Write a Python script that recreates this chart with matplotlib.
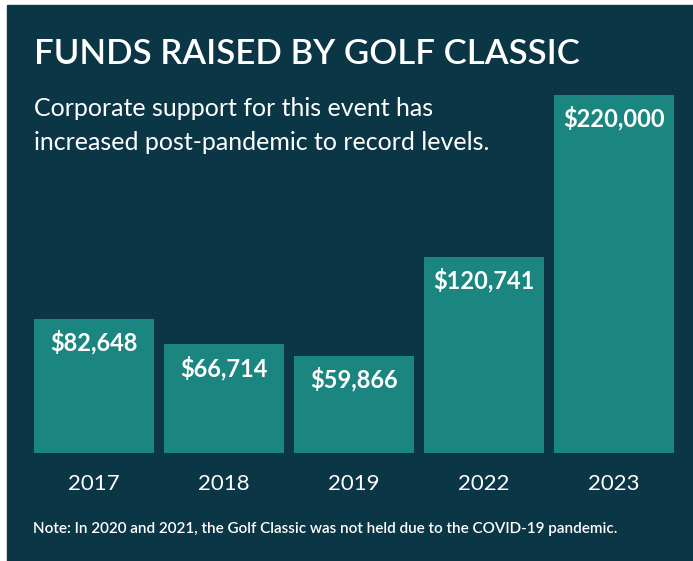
import matplotlib
matplotlib.use("Agg")
import matplotlib.pyplot as plt
from matplotlib.patches import Rectangle

years = ["2017", "2018", "2019", "2022", "2023"]
funds = [82648, 66714, 59866, 120741, 220000]
labels = ["$82,648", "$66,714", "$59,866", "$120,741", "$220,000"]

title = "FUNDS RAISED BY GOLF CLASSIC"
subtitle_lines = ["Corporate support for this event has",
                  "increased post-pandemic to record levels."]
note = "Note: In 2020 and 2021, the Golf Classic was not held due to the COVID-19 pandemic."

bg = "#0a3645"
bar_color = "#1b8580"
W, H = 693, 561

plt.rcParams["font.family"] = ["Lato", "DejaVu Sans"]

fig = plt.figure(figsize=(W / 100, H / 100), dpi=100, facecolor="white")

# dark panel behind everything
fig.patches.append(Rectangle((7 / W, 0), 1 - 7 / W, 1 - 5 / H,
                             transform=fig.transFigure, color=bg, zorder=-1))

# bar area: pixel box 29..679 wide, baseline at y=453, top (220000) at y=95
ax = fig.add_axes([29 / W, (H - 453) / H, 650 / W, (453 - 95) / H])
ax.set_zorder(1)
ax.set_facecolor("none")
x = range(len(years))
ax.bar(x, funds, width=120 / 130, color=bar_color)
ax.set_xlim(-0.5, len(years) - 0.5)
ax.set_ylim(0, 220000)
for s in ax.spines.values():
    s.set_visible(False)
ax.set_yticks([])
ax.set_xticks(list(x))
ax.set_xticklabels(years, color="white", fontsize=16)
ax.tick_params(axis="x", length=0, pad=15)

for xi, v, lab in zip(x, funds, labels):
    ax.annotate(lab, (xi, v), xytext=(0, -8), textcoords="offset points",
                ha="center", va="top", color="white", fontsize=17, fontweight="bold")

fig.text(34 / W, 1 - 64 / H, title, color="white", fontsize=25,
         fontweight="semibold", va="baseline", ha="left")
for i, line in enumerate(subtitle_lines):
    fig.text(34 / W, 1 - (116 + 34 * i) / H, line, color="white", fontsize=18,
             va="baseline", ha="left")
fig.text(33 / W, 1 - 533 / H, note, color="white", fontsize=11,
         fontweight="semibold", va="baseline", ha="left")

fig.savefig("out.png", dpi=100, facecolor="white")
